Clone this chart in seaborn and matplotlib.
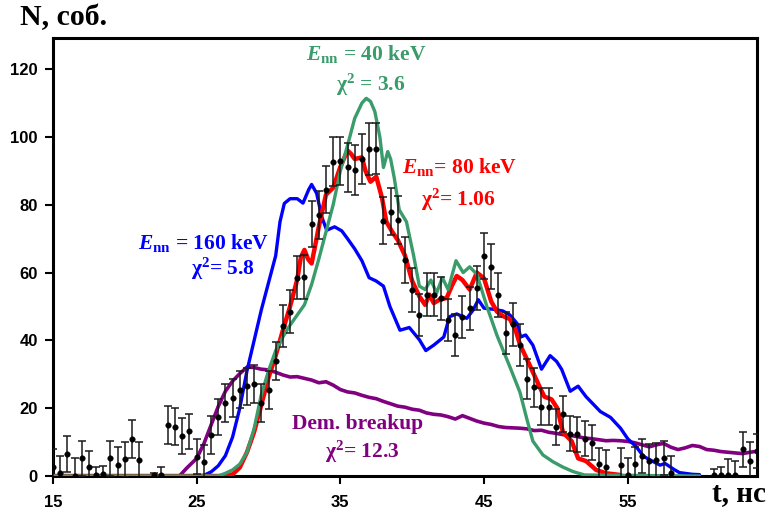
import numpy as np
import pandas as pd
import matplotlib
matplotlib.use("Agg")
import matplotlib.pyplot as plt
import seaborn as sns

# ---------------- data ----------------
t_exp = [15.0, 15.5, 16.0, 16.5, 17.0, 17.5, 18.0, 18.5, 19.0, 19.5,
         20.0, 20.5, 21.0, 21.5, 22.0, 22.5, 23.0, 23.5, 24.0, 24.5,
         25.0, 25.5, 26.0, 26.5, 27.0, 27.5, 28.0, 28.5, 29.0, 29.5,
         30.0, 30.5, 31.0, 31.5, 32.0, 32.5, 33.0, 33.5, 34.0, 34.5,
         35.0, 35.5, 36.0, 36.5, 37.0, 37.5, 38.0, 38.5, 39.0, 39.5,
         40.0, 40.5, 41.0, 41.5, 42.0, 42.5, 43.0, 43.5, 44.0, 44.5,
         45.0, 45.5, 46.0, 46.5, 47.0, 47.5, 48.0, 48.5, 49.0, 49.5,
         50.0, 50.5, 51.0, 51.5, 52.0, 52.5, 53.0, 53.5, 54.0, 54.5,
         55.0, 55.5, 56.0, 56.5, 57.0, 57.5, 58.0, 58.5, 59.0, 59.5,
         60.0, 60.5, 61.0, 61.5, 62.0, 62.5, 63.0, 63.5, 64.0]
n_exp = [2.7, 0.8, 6.5, 0.0, 5.2, 2.6, 0.3, 0.5, 5.2, 3.1,
         4.9, 10.9, 4.7, np.nan, 0.2, 0.2, 15.1, 14.6, 11.8, 13.2,
         5.7, 4.1, 12.1, 17.4, 21.5, 23.0, 25.5, 26.5, 27.0, 21.5,
         25.4, 33.9, 44.3, 48.5, 58.5, 58.8, 74.3, 77.0, 84.5, 92.7,
         92.9, 91.1, 90.3, 93.5, 96.5, 96.5, 75.3, 78.0, 75.5, 63.7,
         54.9, 47.5, 53.5, 53.5, 52.4, 46.0, 41.6, 47.0, 49.5, 55.5,
         65.0, 61.7, 53.5, 42.3, 44.7, 38.6, 28.6, 26.2, 20.4, 20.4,
         14.4, 18.3, 12.5, 12.3, 11.0, 9.8, 3.4, 2.8, np.nan, 3.2,
         0.3, 3.5, 5.9, 4.5, 4.7, 5.4, 0.8, np.nan, np.nan, np.nan,
         np.nan, np.nan, 0.2, 0.2, 0.3, 0.3, 7.9, 4.5, 7.5]
e_exp = [5.3, 5.0, 5.2, 5.3, 5.2, 4.8, 2.3, 2.5, 5.2, 5.4,
         5.1, 5.5, 5.3, 0.0, 0.6, 2.4, 5.6, 5.6, 5.2, 5.2,
         5.1, 5.0, 5.5, 5.2, 5.5, 5.5, 5.5, 5.5, 5.6, 5.6,
         5.5, 5.5, 6.2, 6.3, 6.4, 6.5, 6.8, 7.0, 6.8, 7.3,
         7.2, 7.2, 7.3, 7.4, 7.7, 7.5, 7.0, 7.0, 7.0, 6.8,
         6.5, 6.3, 6.4, 6.4, 6.4, 6.3, 6.2, 6.2, 6.3, 6.5,
         6.8, 6.6, 6.5, 6.2, 6.3, 6.1, 5.8, 5.7, 5.5, 5.5,
         5.3, 5.4, 5.2, 5.2, 5.2, 5.1, 5.0, 5.0, 0.0, 5.0,
         5.0, 5.0, 5.0, 5.0, 5.0, 5.0, 5.0, 0.0, 0.0, 0.0,
         0.0, 0.0, 1.8, 2.4, 4.7, 4.2, 5.2, 5.5, 5.0]

# E_nn = 160 keV (blue)
t_160 = [15.0, 25.0, 25.5, 26.0, 26.5, 27.0, 27.5, 28.0, 28.5, 29.0,
         29.5, 30.0, 30.5, 30.8, 31.1, 31.5, 32.0, 32.4, 32.8, 33.0,
         33.35, 33.7, 34.05, 34.6, 35.1, 35.5, 36.0, 36.5, 37.0, 37.5,
         38.0, 38.45, 39.15, 39.8, 40.5, 40.95, 41.5, 42.2, 42.6, 43.1,
         43.8, 44.25, 44.6, 45.0, 45.6, 46.3, 46.8, 47.3, 47.55, 47.9,
         48.4, 49.0, 49.6, 50.05, 50.4, 51.0, 51.55, 52.1, 53.1, 53.8,
         54.5, 55.0, 55.6, 56.1, 56.8, 57.25, 57.6, 58.2, 58.6, 59.5,
         60.0]
n_160 = [0.0, 0.0, 0.2, 1.2, 3.0, 6.0, 11.5, 20.0, 31.0, 40.0,
         49.0, 57.0, 65.0, 75.0, 80.4, 81.8, 81.8, 80.5, 84.5, 86.0,
         83.4, 76.5, 72.5, 73.5, 72.3, 70.0, 67.0, 63.5, 58.5, 57.5,
         56.0, 50.0, 43.0, 43.8, 40.2, 37.0, 38.6, 41.0, 47.0, 47.8,
         46.5, 49.0, 52.0, 49.5, 49.2, 48.7, 47.5, 45.0, 41.0, 41.6,
         38.6, 31.5, 35.5, 33.8, 31.5, 25.0, 26.5, 23.4, 19.0, 17.3,
         14.1, 11.0, 8.6, 5.8, 4.2, 3.2, 3.7, 2.0, 1.0, 0.5,
         0.4]

# E_nn = 80 keV (red)
t_80 = [15.0, 27.0, 27.5, 28.0, 28.5, 29.0, 29.5, 30.0, 30.5, 31.0,
        31.5, 32.0, 32.25, 32.5, 32.75, 33.0, 33.25, 33.5, 34.0, 34.5,
        35.0, 35.5, 35.75, 36.0, 36.5, 36.75, 37.1, 37.5, 37.9, 38.2,
        38.6, 39.0, 39.5, 40.0, 40.5, 40.9, 41.2, 41.5, 41.9, 42.4,
        42.75, 43.1, 43.5, 44.0, 44.5, 45.0, 45.5, 45.9, 46.3, 46.8,
        47.2, 47.5, 48.2, 48.9, 49.2, 49.7, 50.1, 50.5, 51.1, 51.55,
        52.1, 52.8, 53.5, 54.5]
n_80 = [0.0, 0.0, 0.5, 2.5, 7.0, 13.0, 21.0, 29.0, 35.5, 43.0,
        50.0, 58.0, 64.5, 66.7, 64.0, 62.7, 68.0, 73.5, 83.0, 85.0,
        91.2, 96.0, 95.0, 93.5, 94.0, 90.0, 86.8, 88.3, 82.0, 75.0,
        72.1, 69.6, 65.0, 57.5, 53.0, 50.5, 53.5, 51.0, 52.0, 52.5,
        56.0, 59.0, 57.8, 55.0, 60.0, 58.3, 51.5, 48.5, 47.2, 46.3,
        43.0, 38.8, 32.5, 26.0, 23.4, 22.6, 20.0, 12.8, 10.3, 5.2,
        4.4, 1.8, 0.8, 0.3]

# E_nn = 40 keV (green)
t_40 = [15.0, 26.5, 27.0, 27.5, 28.0, 28.5, 29.0, 29.5, 30.0, 30.5,
        31.0, 31.5, 32.0, 32.5, 33.0, 33.5, 34.0, 34.5, 35.0, 35.5,
        36.0, 36.5, 36.8, 37.1, 37.4, 37.75, 38.0, 38.3, 38.5, 38.75,
        39.1, 39.6, 40.1, 40.5, 40.9, 41.3, 41.7, 42.1, 42.5, 43.05,
        43.55, 44.0, 44.5, 45.2, 45.9, 46.8, 47.5, 48.0, 48.4, 49.1,
        49.8, 50.5, 51.2, 52.0, 60.0]
n_40 = [0.0, 0.0, 0.8, 1.8, 3.5, 7.0, 14.0, 24.0, 31.0, 37.0,
        41.0, 44.5, 47.5, 50.5, 56.5, 64.0, 72.0, 80.0, 90.0, 97.5,
        105.5, 110.0, 111.4, 110.5, 107.5, 100.0, 91.0, 95.7, 93.5, 88.0,
        78.5, 75.0, 65.0, 56.0, 55.0, 57.8, 54.0, 58.5, 55.0, 63.5,
        60.0, 61.7, 59.5, 50.0, 41.5, 32.2, 24.7, 16.5, 10.3, 6.2,
        4.2, 2.6, 1.3, 0.3, 0.0]

# Deuteron breakup (purple)
t_dem = [15.0, 23.8, 24.3, 25.0, 25.5, 26.0, 26.5, 27.0, 27.5, 28.0,
         28.5, 29.0, 29.5, 30.0, 30.5, 31.0, 31.5, 32.0, 32.5, 33.0,
         33.5, 34.0, 34.5, 35.0, 35.5, 36.0, 36.5, 37.0, 37.5, 38.0,
         38.5, 39.0, 39.5, 40.0, 40.5, 41.0, 41.5, 42.0, 42.5, 43.0,
         43.5, 44.0, 44.5, 45.0, 45.5, 46.0, 46.5, 47.0, 47.5, 48.0,
         48.5, 49.0, 49.5, 50.0, 50.5, 51.0, 51.5, 52.0, 52.5, 53.0,
         53.5, 54.0, 54.5, 55.0, 55.5, 56.0, 56.5, 57.0, 57.5, 58.0,
         58.5, 59.0, 59.5, 60.0, 60.5, 61.0, 61.5, 62.0, 62.5, 63.0,
         63.5, 64.0]
n_dem = [0.0, 0.0, 2.3, 5.2, 9.5, 15.0, 20.5, 25.0, 28.0, 30.2,
         32.1, 32.0, 31.5, 31.3, 30.6, 29.8, 29.2, 29.3, 28.8, 28.3,
         27.5, 27.8, 26.8, 25.5, 24.8, 24.5, 23.8, 23.2, 22.8, 22.0,
         21.3, 20.6, 20.3, 19.7, 19.4, 18.6, 18.2, 18.0, 17.5, 16.8,
         17.8, 17.0, 16.2, 15.6, 15.2, 14.6, 14.3, 14.2, 14.1, 13.9,
         13.4, 13.5, 12.9, 12.6, 12.2, 12.0, 11.6, 11.2, 11.0, 10.7,
         10.4, 10.5, 10.4, 10.2, 9.8, 9.2, 8.6, 9.2, 9.6, 8.5,
         7.8, 8.3, 9.0, 8.7, 7.8, 7.6, 7.2, 7.0, 6.8, 6.6,
         7.0, 7.3]

x_ticks = [15, 25, 35, 45, 55]
y_ticks = [0, 20, 40, 60, 80, 100, 120]

C_BLUE = "#0000FF"
C_RED = "#FF0000"
C_GREEN = "#3A9B6B"
C_PURPLE = "#800080"

# ---------------- style ----------------
sns.set_theme(style="ticks")
plt.rcParams.update({
    "font.family": ["Liberation Serif", "DejaVu Serif"],
    "mathtext.fontset": "custom",
    "mathtext.rm": "Liberation Serif:bold",
    "mathtext.it": "Liberation Serif:bold:italic",
    "mathtext.bf": "Liberation Serif:bold",
})

fig = plt.figure(figsize=(7.72, 5.14), dpi=100)
ax = fig.add_axes([53 / 772, (514 - 476) / 514, 704 / 772, 438 / 514])

curves = [
    (t_dem, n_dem, C_PURPLE, 2.6),
    (t_160, n_160, C_BLUE, 2.4),
    (t_80, n_80, C_RED, 3.2),
    (t_40, n_40, C_GREEN, 2.4),
]
for tt, nn, col, lw in curves:
    df = pd.DataFrame({"t": tt, "N": nn})
    sns.lineplot(data=df, x="t", y="N", color=col, linewidth=lw,
                 estimator=None, sort=False, ax=ax, legend=False, zorder=3)

exp = pd.DataFrame({"t": t_exp, "N": n_exp, "err": e_exp}).dropna()
ax.errorbar(exp["t"], exp["N"], yerr=exp["err"], fmt="none",
            ecolor="#1a1a1a", elinewidth=1.1, capsize=3.2, capthick=1.1,
            zorder=5)
sns.scatterplot(data=exp, x="t", y="N", color="black", s=16, marker="o",
                edgecolor="black", linewidth=0.3, ax=ax, zorder=6, legend=False)

ax.set_xlim(15, 64)
ax.set_ylim(0, 129.2)
ax.set_xticks(x_ticks)
ax.set_yticks(y_ticks)
ax.set_xlabel("")
ax.set_ylabel("")
ax.tick_params(axis="both", direction="out", length=6, width=1.5,
               color="black", labelsize=12, bottom=True, left=True)
ax.tick_params(axis="x", pad=8)
ax.tick_params(axis="y", pad=5)
for lbl in ax.get_xticklabels() + ax.get_yticklabels():
    lbl.set_fontfamily("Liberation Sans")
    lbl.set_fontweight("bold")
    lbl.set_color("black")
for sp in ax.spines.values():
    sp.set_visible(True)
    sp.set_color("black")
    sp.set_linewidth(2.2)

# ---------------- annotations ----------------
fs = 15.5
def label(x, y, s, col):
    ax.text(x, y, s, color=col, fontsize=fs, fontweight="bold",
            ha="center", va="center", fontfamily="Liberation Serif", zorder=7)

label(36.8, 124.4, r"$\mathit{E}_{\mathrm{nn}}$ = 40 keV", C_GREEN)
label(37.1, 115.4, r"$\mathrm{\chi}^{2}$ = 3.6", C_GREEN)
label(43.3, 91.1, r"$\mathit{E}_{\mathrm{nn}}$= 80 keV", C_RED)
label(43.2, 81.3, r"$\mathrm{\chi}^{2}$= 1.06", C_RED)
label(25.5, 68.6, r"$\mathit{E}_{\mathrm{nn}}$ = 160 keV", C_BLUE)
label(26.8, 61.2, r"$\mathrm{\chi}^{2}$= 5.8", C_BLUE)
label(36.2, 15.2, "Dem. breakup", C_PURPLE)
label(36.5, 7.0, r"$\mathrm{\chi}^{2}$= 12.3", C_PURPLE)

fig.text(20 / 772, 1 - 18 / 514, "N, соб.", fontsize=21.5, fontweight="bold",
         fontfamily="Liberation Serif", ha="left", va="center", color="black")
fig.text(712 / 772, 1 - 494 / 514, "t, нс", fontsize=21, fontweight="bold",
         fontfamily="Liberation Serif", ha="left", va="center", color="black")

fig.savefig("out.png", dpi=100)
